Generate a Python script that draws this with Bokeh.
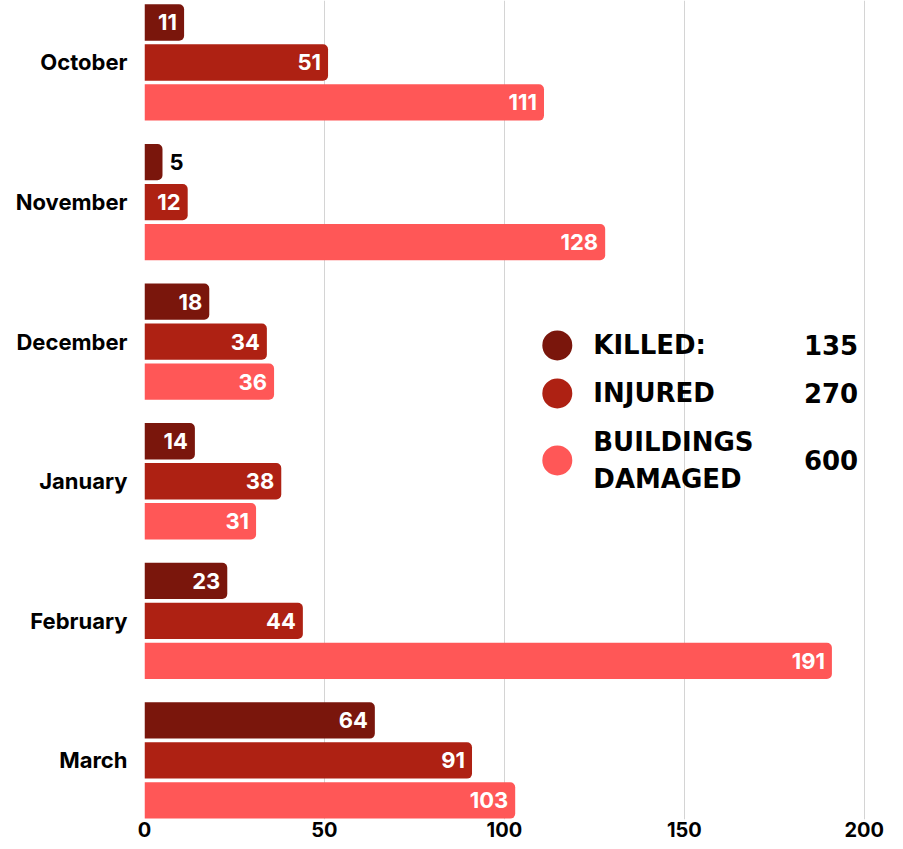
from bokeh.plotting import figure
from bokeh.models import ColumnDataSource, Range1d, FixedTicker
from bokeh.transform import dodge
from bokeh.core.properties import value
from bokeh.embed import file_html
from bokeh.resources import INLINE

months = ["October", "November", "December", "January", "February", "March"]
killed = [11, 5, 18, 14, 23, 64]
injured = [51, 12, 34, 38, 44, 91]
buildings = [111, 128, 36, 31, 191, 103]
series_names = ["KILLED:", "INJURED", "BUILDINGS\nDAMAGED"]
colors = ["#7A160C", "#AE2113", "#FF5757"]
x_ticks = [0, 50, 100, 150, 200]

pos = list(range(len(months)))
series = [killed, injured, buildings]
offsets = [-0.2865, 0.0, 0.2865]

p = figure(width=903, height=849, output_backend="svg", toolbar_location=None,
           x_range=Range1d(0, 202), y_range=Range1d(5.423, -0.444),
           min_border_left=144, min_border_right=32, min_border_top=0,
           min_border_bottom=30)
p.outline_line_color = None
p.background_fill_color = "white"

for vals, off, col in zip(series, offsets, colors):
    src = ColumnDataSource(dict(pos=pos, v=vals))
    p.hbar(y=dodge("pos", off), left=0, right="v", height=0.26, source=src,
           fill_color=col, line_color=None, border_radius=(0, 5, 5, 0))
    inside = [i for i, v in enumerate(vals) if v >= 8]
    outside = [i for i, v in enumerate(vals) if v < 8]
    s_in = ColumnDataSource(dict(pos=[pos[i] for i in inside], v=[vals[i] for i in inside],
                                 t=[str(vals[i]) for i in inside]))
    s_out = ColumnDataSource(dict(pos=[pos[i] for i in outside], v=[vals[i] for i in outside],
                                  t=[str(vals[i]) for i in outside]))
    p.text(x="v", y=dodge("pos", off), text="t", source=s_in, x_offset=-7,
           text_align="right", text_baseline="middle", text_color="white",
           text_font=value("Inter"), text_font_style="bold", text_font_size="22px")
    p.text(x="v", y=dodge("pos", off), text="t", source=s_out, x_offset=7,
           text_align="left", text_baseline="middle", text_color="black",
           text_font=value("Inter"), text_font_style="bold", text_font_size="22px")

# legend
totals = [sum(s) for s in series]
leg_y = [2.027, 2.371, 2.851]
leg_src = ColumnDataSource(dict(y=leg_y, c=colors, name=series_names,
                                tot=[str(t) for t in totals]))
p.scatter(x=114.7, y="y", size=30, fill_color="c", line_color=None, source=leg_src)
p.text(x=124.7, y="y", text="name", source=leg_src, text_align="left",
       text_baseline="middle", text_color="black", text_font=value("DejaVu Sans"),
       text_font_style="bold", text_font_size="26px", text_line_height=1.25)
p.text(x=198.3, y="y", text="tot", source=leg_src, text_align="right",
       text_baseline="middle", text_color="black", text_font=value("DejaVu Sans"),
       text_font_style="bold", text_font_size="26px")

# axes
p.xaxis.ticker = FixedTicker(ticks=x_ticks)
p.xaxis.axis_line_color = None
p.xaxis.major_tick_line_color = None
p.xaxis.major_tick_out = 0
p.xaxis.minor_tick_line_color = None
p.xaxis.major_label_standoff = 2
p.xaxis.major_label_text_font = "Inter"
p.xaxis.major_label_text_font_style = "bold"
p.xaxis.major_label_text_font_size = "20px"
p.xaxis.major_label_text_color = "black"

p.yaxis.ticker = FixedTicker(ticks=pos)
p.yaxis.major_label_overrides = {i: m for i, m in zip(pos, months)}
p.yaxis.axis_line_color = None
p.yaxis.major_tick_line_color = None
p.yaxis.major_tick_out = 0
p.yaxis.minor_tick_line_color = None
p.yaxis.major_label_standoff = 17
p.yaxis.major_label_text_font = "Inter"
p.yaxis.major_label_text_font_style = "bold"
p.yaxis.major_label_text_font_size = "22px"
p.yaxis.major_label_text_color = "black"

p.xgrid.ticker = FixedTicker(ticks=x_ticks)
p.xgrid.grid_line_color = "#d4d4d4"
p.xgrid.grid_line_width = 1
p.ygrid.grid_line_color = None

open("out.html", "w").write(file_html(p, INLINE))
